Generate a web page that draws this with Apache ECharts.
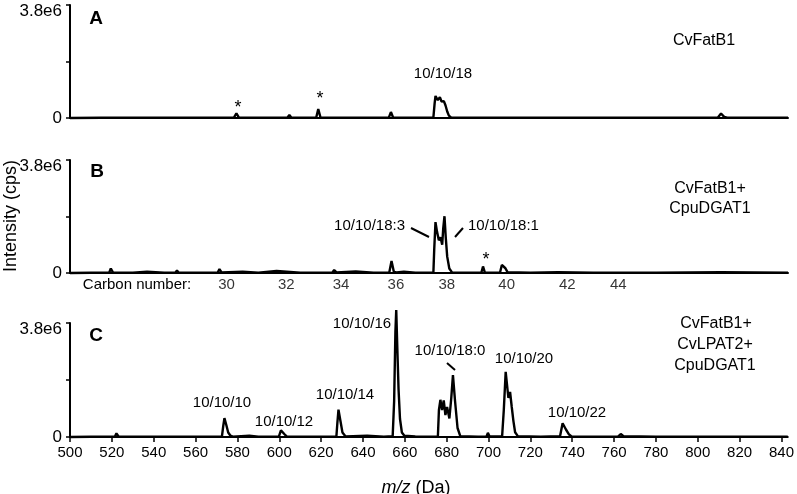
<!DOCTYPE html>
<html>
<head>
<meta charset="utf-8">
<script src="https://cdn.jsdelivr.net/npm/echarts@6/dist/echarts.min.js"></script>
<style>
  html, body { margin: 0; padding: 0; background: #fff; }
  #chart { width: 797px; height: 494px; }
</style>
</head>
<body>
<div id="chart"></div>
<script>
// m/z ticks and intensity ticks
const xTicks = [500, 520, 540, 560, 580, 600, 620, 640, 660, 680, 700, 720, 740, 760, 780, 800, 820, 840]
const yLabels = [0, 3.8e6]

// spectrum A: CvFatB1  [m/z, cps]
const spectrumA = [
  [500, 0], [515, 0.01e6], [530, 0.01e6], [545, 0.01e6], [560, 0.01e6], [570.5, 0.01e6],
  [571.4, 0.04e6], [572.3, 0.01e6], [578.3, 0.01e6], [579.5, 0.16e6], [580.7, 0.01e6],
  [590, 0.01e6], [603.8, 0.01e6], [604.8, 0.1e6], [605.8, 0.01e6], [612, 0.01e6],
  [617.6, 0.01e6], [618.6, 0.3e6], [619.7, 0.01e6], [626, 0.01e6], [626.7, 0.04e6],
  [627.5, 0.01e6], [640, 0.01e6], [652.3, 0.01e6], [653.3, 0.2e6], [654.4, 0.01e6],
  [665, 0.01e6], [673.6, 0.02e6], [674.2, 0.5e6], [674.6, 0.74e6], [675.7, 0.6e6],
  [676.7, 0.7e6], [677.5, 0.55e6], [678.6, 0.57e6], [679.4, 0.42e6], [680.2, 0.22e6],
  [681, 0.08e6], [682, 0.02e6], [695, 0.01e6], [705.5, 0.01e6], [706.3, 0.04e6],
  [707, 0.01e6], [730, 0.01e6], [750, 0.01e6], [762.3, 0.01e6], [763.2, 0.06e6],
  [764.2, 0.01e6], [790, 0.01e6], [809.5, 0.02e6], [811, 0.15e6], [812.5, 0.04e6],
  [814, 0.01e6], [835, 0.01e6], [835.7, 0.04e6], [836.5, 0.01e6], [843, 0.01e6]
]

// spectrum B: CvFatB1 + CpuDGAT1
const spectrumB = [
  [500, 0], [510, 0.01e6], [518.7, 0.01e6], [519.5, 0.15e6], [520.5, 0.02e6], [530, 0.01e6],
  [536.8, 0.04e6], [545, 0.01e6], [550.3, 0.01e6], [551.1, 0.08e6], [552, 0.01e6],
  [565, 0.01e6], [570.5, 0.01e6], [571.4, 0.13e6], [572.4, 0.02e6], [582.5, 0.04e6],
  [590, 0.01e6], [598.7, 0.07e6], [610, 0.01e6], [625.3, 0.01e6], [626.2, 0.1e6],
  [627.3, 0.02e6], [636.5, 0.05e6], [645, 0.01e6], [652.5, 0.01e6], [653.6, 0.4e6],
  [654.7, 0.04e6], [656, 0.02e6], [659.5, 0.04e6], [665, 0.01e6], [673.6, 0.02e6],
  [674.0, 0.8e6], [674.6, 1.71e6], [675.3, 1.4e6], [676.2, 1.1e6], [677, 1.2e6],
  [677.8, 0.95e6], [678.3, 1.5e6], [678.9, 1.91e6], [679.5, 1.2e6], [680.2, 0.55e6],
  [681.2, 0.15e6], [682.5, 0.02e6], [690, 0.01e6], [696.5, 0.01e6], [697.3, 0.22e6],
  [698.2, 0.01e6], [705.4, 0.01e6], [706.3, 0.27e6], [708, 0.16e6], [709, 0.03e6],
  [720, 0.01e6], [733, 0.03e6], [750, 0.01e6], [780, 0.01e6], [811, 0.03e6], [843, 0.01e6]
]

// spectrum C: CvFatB1 + CvLPAT2 + CpuDGAT1
const spectrumC = [
  [500, 0], [510, 0.01e6], [521.4, 0.01e6], [522.2, 0.12e6], [523.2, 0.02e6], [535, 0.01e6],
  [546, 0.01e6], [546.8, 0.06e6], [547.8, 0.01e6], [560, 0.01e6], [572.6, 0.01e6],
  [573.2, 0.35e6], [573.8, 0.63e6], [574.7, 0.4e6], [575.6, 0.15e6], [576.6, 0.05e6],
  [577.8, 0.01e6], [585.7, 0.04e6], [590, 0.01e6], [599.8, 0.01e6], [600.8, 0.22e6],
  [601.6, 0.16e6], [602.4, 0.1e6], [603.5, 0.02e6], [615, 0.01e6], [627.3, 0.02e6],
  [627.8, 0.5e6], [628.3, 0.91e6], [629.2, 0.55e6], [630.2, 0.15e6], [631.7, 0.02e6],
  [642, 0.04e6], [650, 0.01e6], [654.2, 0.03e6], [654.9, 1.2e6], [655.5, 3.5e6],
  [655.9, 4.23e6], [656.4, 3.0e6], [657.0, 1.6e6], [657.7, 0.6e6], [658.6, 0.15e6],
  [659.8, 0.04e6], [665, 0.02e6], [670, 0.01e6], [675.8, 0.02e6], [676.3, 0.9e6],
  [677, 1.24e6], [677.8, 0.9e6], [678.6, 1.22e6], [679.4, 0.73e6], [680.2, 1.0e6],
  [681.3, 0.62e6], [682.2, 1.3e6], [683, 2.06e6], [684, 1.2e6], [685.2, 0.3e6],
  [686.5, 0.03e6], [695, 0.01e6], [699, 0.01e6], [699.7, 0.14e6], [700.5, 0.02e6],
  [706.5, 0.03e6], [707.3, 0.9e6], [708.2, 2.17e6], [709.5, 1.3e6], [710.3, 1.5e6],
  [711.1, 1.0e6], [711.9, 0.53e6], [712.7, 0.16e6], [714, 0.03e6], [725, 0.01e6],
  [734.2, 0.03e6], [735.4, 0.46e6], [737, 0.25e6], [738.5, 0.08e6], [739.7, 0.02e6],
  [750, 0.01e6], [762, 0.02e6], [763.2, 0.1e6], [764.5, 0.03e6], [780, 0.01e6],
  [800, 0.01e6], [820, 0.01e6], [843, 0.01e6]
]

// carbon number row under panel B
const carbonLabels = ['30', '32', '34', '36', '38', '40', '42', '44']
const carbonMz = [574.8, 603.3, 629.5, 655.7, 680, 708.6, 737.6, 761.9]

const FONT = 'Liberation Sans, Arial, sans-serif'
const grids = [
  { left: 70, width: 718, top: 5, height: 113 },
  { left: 70, width: 718, top: 160, height: 113 },
  { left: 70, width: 718, top: 323, height: 114 }
]

const makeX = (i) => ({
  type: 'value',
  gridIndex: i,
  min: 500,
  max: 843,
  axisLine: { show: true, lineStyle: { color: '#000', width: 2 } },
  splitLine: { show: false },
  axisTick: i === 2
    ? { show: true, customValues: xTicks, length: 5, lineStyle: { color: '#000', width: 1.5 } }
    : { show: false },
  axisLabel: i === 2
    ? { show: true, customValues: xTicks, color: '#000', fontSize: 15, fontFamily: FONT, margin: 8 }
    : { show: false }
})

const makeY = (i) => ({
  type: 'value',
  gridIndex: i,
  min: 0,
  max: 3.8e6,
  interval: 1.9e6,
  axisLine: { show: true, lineStyle: { color: '#000', width: 2 } },
  splitLine: { show: false },
  axisTick: { show: true, length: 4, lineStyle: { color: '#000', width: 1.5 } },
  axisLabel: {
    customValues: yLabels,
    color: '#000',
    fontSize: 17,
    fontFamily: FONT,
    margin: 8,
    formatter: (v) => (v === 0 ? '0' : '{top|3.8e6}'),
    // top label sits a little below the axis end
    rich: { top: { fontSize: 17, fontFamily: FONT, color: '#000', lineHeight: 30, verticalAlign: 'bottom' } }
  }
})

const makeLine = (i, data) => ({
  type: 'line',
  xAxisIndex: i,
  yAxisIndex: i,
  data: data,
  showSymbol: false,
  clip: false,
  lineStyle: { color: '#000', width: 2.4 },
  silent: true
})

// text helper
const txt = (text, x, y, size, opts = {}) => ({
  type: 'text',
  x: x,
  y: y,
  rotation: opts.rotation || 0,
  style: {
    text: text,
    fill: '#000',
    font: (opts.bold ? 'bold ' : '') + size + 'px ' + FONT,
    align: opts.align || 'center',
    verticalAlign: 'middle',
    textAlign: opts.align || 'center',
    textVerticalAlign: 'middle',
    rich: opts.rich
  }
})
const seg = (x1, y1, x2, y2) => ({
  type: 'line',
  shape: { x1, y1, x2, y2 },
  style: { stroke: '#000', lineWidth: 2 }
})

const chart = echarts.init(document.getElementById('chart'))
chart.setOption({
  animation: false,
  grid: grids,
  xAxis: [makeX(0), makeX(1), makeX(2)],
  yAxis: [makeY(0), makeY(1), makeY(2)],
  series: [
    makeLine(0, spectrumA),
    makeLine(1, spectrumB),
    makeLine(2, spectrumC),
    {
      type: 'scatter',
      xAxisIndex: 1,
      yAxisIndex: 1,
      data: carbonMz.map((m) => [m, 0]),
      symbolSize: 0,
      clip: false,
      silent: true,
      label: {
        show: true,
        position: 'inside',
        offset: [0, 12],
        formatter: (p) => carbonLabels[p.dataIndex],
        color: '#000',
        fontSize: 15,
        fontFamily: FONT
      }
    }
  ],
  graphic: [
    // panel letters
    txt('A', 96, 19, 19, { bold: true }),
    txt('B', 97, 172, 19, { bold: true }),
    txt('C', 96, 336, 19, { bold: true }),
    // construct names
    txt('CvFatB1', 704, 41, 16),
    txt('CvFatB1+', 710, 189, 16),
    txt('CpuDGAT1', 710, 209, 16),
    txt('CvFatB1+', 716, 324, 16),
    txt('CvLPAT2+', 715, 345, 16),
    txt('CpuDGAT1', 715, 366, 16),
    // peak names
    txt('10/10/18', 443, 74, 15),
    txt('10/10/18:3', 405, 226, 15, { align: 'right' }),
    txt('10/10/18:1', 468, 226, 15, { align: 'left' }),
    txt('10/10/10', 222, 403, 15),
    txt('10/10/12', 284, 422, 15),
    txt('10/10/14', 345, 395, 15),
    txt('10/10/16', 362, 324, 15),
    txt('10/10/18:0', 450, 351, 15),
    txt('10/10/20', 524, 359, 15),
    txt('10/10/22', 577, 413, 15),
    // asterisks
    txt('*', 238, 108, 18),
    txt('*', 320, 99, 18),
    txt('*', 486, 260, 18),
    // leader lines
    seg(411, 228, 429, 237),
    seg(455, 237, 463, 228),
    seg(447, 363, 455, 370),
    // axis titles
    txt('Carbon number:', 137, 285, 15),
    txt('Intensity (cps)', 11, 216, 18, { rotation: Math.PI / 2 }),
    txt('{i|m/z} (Da)', 416, 488, 18, { rich: { i: { fontStyle: 'italic', fontSize: 18, fontFamily: FONT } } })
  ]
})
</script>
</body>
</html>
